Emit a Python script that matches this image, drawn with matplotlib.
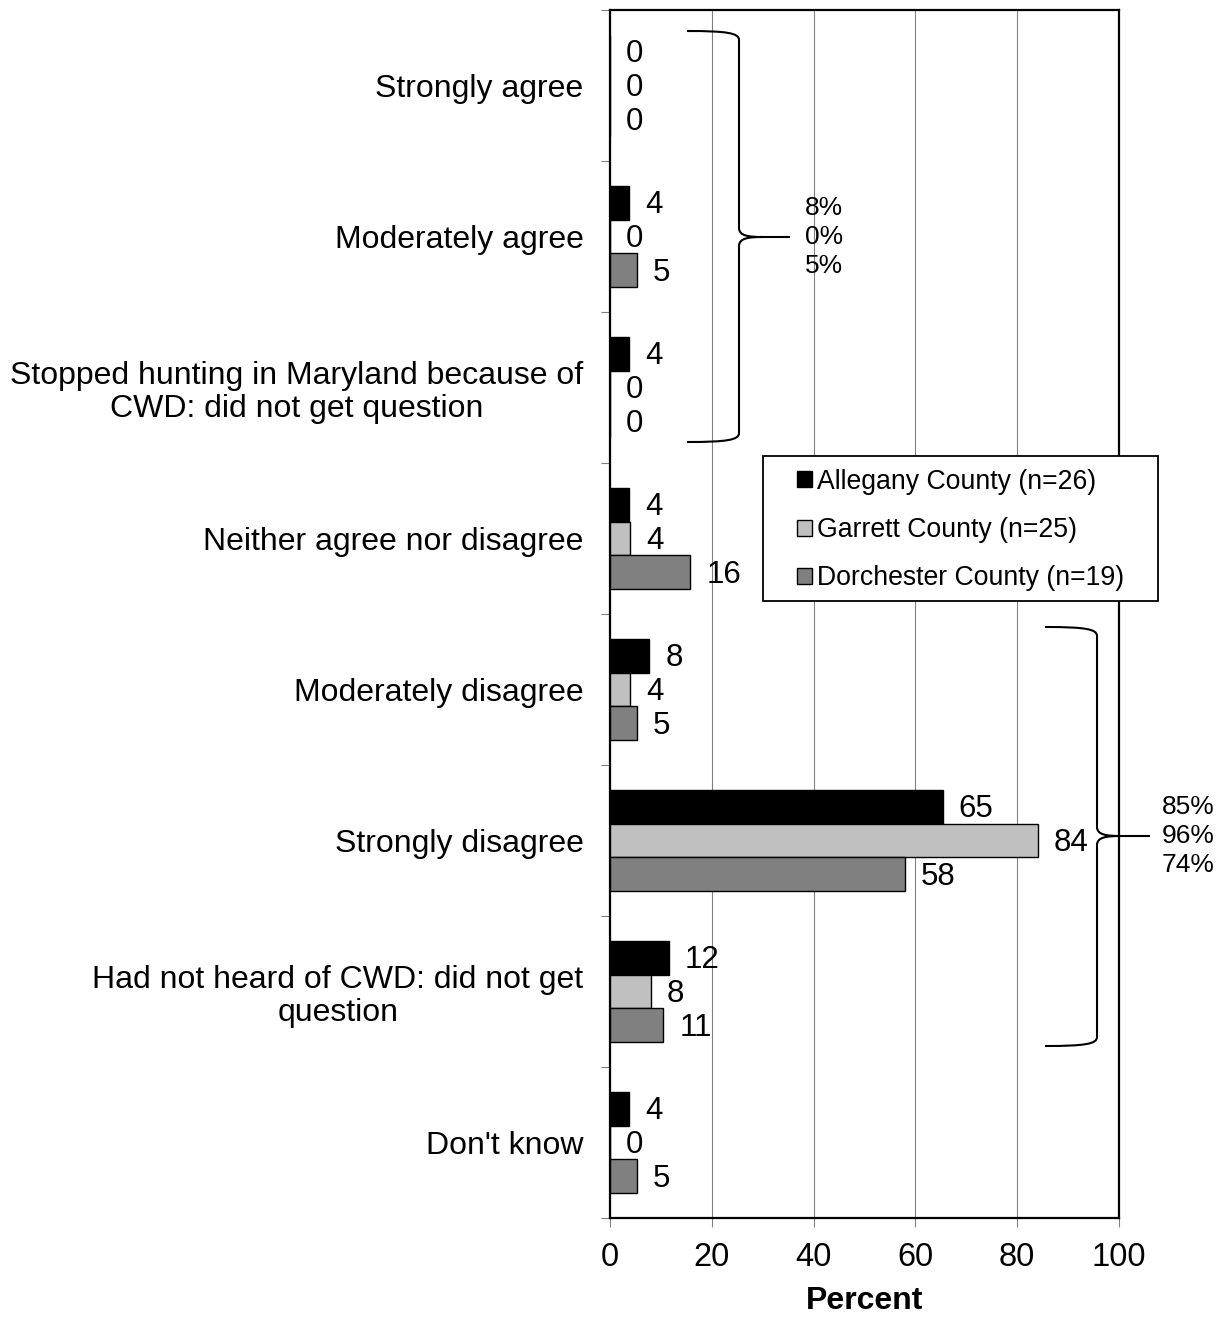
import numpy as np
import matplotlib
matplotlib.use('Agg')
from matplotlib import pyplot as plt
from matplotlib.path import Path
from matplotlib.patches import PathPatch, Rectangle, Patch

plt.rcParams['font.family'] = ['Liberation Sans', 'DejaVu Sans']

categories = ['Strongly agree',
              'Moderately agree',
              'Stopped hunting in Maryland because of\nCWD: did not get question',
              'Neither agree nor disagree',
              'Moderately disagree',
              'Strongly disagree',
              'Had not heard of CWD: did not get\nquestion',
              "Don't know"]
allegany = [0, 3.8, 3.8, 3.8, 7.7, 65.4, 11.5, 3.8]
garrett = [0, 0, 0, 4, 4, 84, 8, 0]
dorchester = [0, 5.3, 0, 15.8, 5.3, 57.9, 10.5, 5.3]
series_names = ['Allegany County (n=26)', 'Garrett County (n=25)', 'Dorchester County (n=19)']
agree_totals = ['8%', '0%', '5%']
disagree_totals = ['85%', '96%', '74%']

colors = ['#000000', '#c0c0c0', '#808080']

fig = plt.figure(figsize=(12.24, 13.18), dpi=100)
ax = fig.add_axes([0.49837, 0.07587, 0.41585, 0.91654])

y = np.arange(len(categories))
h = 0.225
for i, (vals, c) in enumerate(zip([allegany, garrett, dorchester], colors)):
    bars = ax.barh(y + (i - 1) * h, vals, height=h, color=c, edgecolor='black',
                   linewidth=1.0, zorder=3)
    labs = ax.bar_label(bars, labels=[str(int(v + 0.5)) for v in vals], padding=11.5,
                        fontsize=22.5, zorder=4)
    for t in labs:
        t.set_va('center')
        t.xyann = (t.xyann[0], t.xyann[1] - 2)

ax.set_xlim(0, 100)
ax.set_ylim(len(categories) - 0.5, -0.5)
ax.set_xticks([0, 20, 40, 60, 80, 100])
ax.set_yticks(y)
ax.set_yticklabels(categories)
for lbl in ax.get_yticklabels():
    lbl.set_multialignment('center')
    lbl.set_linespacing(1.15)
ax.set_yticks(np.arange(len(categories) + 1) - 0.5, minor=True)
ax.tick_params(axis='y', which='major', length=0, pad=19, labelsize=23)
ax.tick_params(axis='y', which='minor', length=6.5, width=0.8, color='#808080')
ax.tick_params(axis='x', which='major', length=6.5, width=0.8, color='#808080',
               pad=11, labelsize=23.5)
ax.grid(axis='x', color='#808080', linewidth=0.8, zorder=0)
ax.set_axisbelow(True)
for s in ax.spines.values():
    s.set_linewidth(1.6)
    s.set_color('black')
ax.set_xlabel('Percent', fontsize=23, fontweight='bold', labelpad=9)


def px(x):
    return (x - 610) / 509


def py(v):
    return (1218 - v) / 1208


def brace(x_tip, x_v, x_pt, y_top, y_mid, y_bot):
    # pixel-based description, converted to axes fraction
    c = 9
    verts = [(x_tip, y_top), (x_v - 12, y_top), (x_v, y_top + 2), (x_v, y_top + c),
             (x_v, y_mid - c),
             (x_v, y_mid - 1), (x_v + 10, y_mid), (x_v + 24, y_mid),
             (x_pt, y_mid),
             (x_v + 24, y_mid),
             (x_v + 10, y_mid), (x_v, y_mid + 1), (x_v, y_mid + c),
             (x_v, y_bot - c),
             (x_v, y_bot - 2), (x_v - 12, y_bot), (x_tip, y_bot)]
    codes = [Path.MOVETO, Path.CURVE4, Path.CURVE4, Path.CURVE4,
             Path.LINETO,
             Path.CURVE4, Path.CURVE4, Path.CURVE4,
             Path.LINETO,
             Path.MOVETO,
             Path.CURVE4, Path.CURVE4, Path.CURVE4,
             Path.LINETO,
             Path.CURVE4, Path.CURVE4, Path.CURVE4]
    verts = [(px(a), py(b)) for a, b in verts]
    ax.add_patch(PathPatch(Path(verts, codes), facecolor='none', edgecolor='black',
                           linewidth=1.5, transform=ax.transAxes, clip_on=False, zorder=5))


brace(687, 739, 790, 31, 237, 442)
brace(1045, 1097, 1150, 627, 836, 1046)

ax.text(px(805), py(237), '\n'.join(agree_totals), transform=ax.transAxes,
        fontsize=19, ha='left', va='center', linespacing=1.27, zorder=6)
ax.text(px(1162), py(836), '\n'.join(disagree_totals), transform=ax.transAxes,
        fontsize=19, ha='left', va='center', linespacing=1.27, zorder=6)

# legend box
ax.add_patch(Rectangle((px(763), py(601)), px(1158) - px(763), py(456) - py(601),
                       transform=ax.transAxes, facecolor='white', edgecolor='black',
                       linewidth=1.3, clip_on=False, zorder=7))
handles = [Patch(facecolor=c, edgecolor='black', linewidth=1.0) for c in colors]
leg = ax.legend(handles, series_names, loc='center left',
                bbox_to_anchor=(px(797), py(530)), frameon=False, fontsize=19.2,
                handlelength=0.55, handleheight=0.55, handletextpad=0.2,
                labelspacing=0.84, borderpad=0, borderaxespad=0)
leg.set_zorder(8)

plt.savefig('out.png', dpi=100)
